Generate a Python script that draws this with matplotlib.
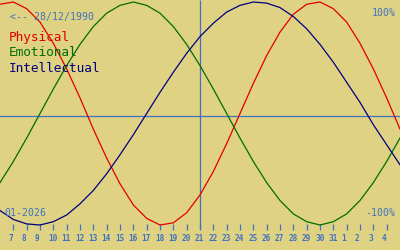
import matplotlib
matplotlib.use("Agg")
import matplotlib.pyplot as plt

# Day index 0 = 6 Jan 2026 ... 30 = 5 Feb 2026
days = list(range(31))
physical = [0.98, 1.00, 0.94, 0.82, 0.63, 0.40, 0.14, -0.14, -0.40, -0.63,
            -0.82, -0.94, -1.00, -0.98, -0.89, -0.73, -0.52, -0.27, 0.00, 0.27,
            0.52, 0.73, 0.89, 0.98, 1.00, 0.94, 0.82, 0.63, 0.40, 0.14, -0.14]
emotional = [-0.62, -0.43, -0.22, 0.00, 0.22, 0.43, 0.62, 0.78, 0.90, 0.97,
             1.00, 0.97, 0.90, 0.78, 0.62, 0.43, 0.22, 0.00, -0.22, -0.43,
             -0.62, -0.78, -0.90, -0.97, -1.00, -0.97, -0.90, -0.78, -0.62, -0.43, -0.22]
intellectual = [-0.87, -0.95, -0.99, -1.00, -0.97, -0.91, -0.81, -0.69, -0.54, -0.37,
                -0.19, 0.00, 0.19, 0.37, 0.54, 0.69, 0.81, 0.91, 0.97, 1.00,
                0.99, 0.95, 0.87, 0.76, 0.62, 0.46, 0.28, 0.10, -0.10, -0.28, -0.46]
tick_days = list(range(1, 30))
tick_labels = [str(d) for d in range(7, 32)] + ["1", "2", "3", "4"]
today = 15
birth_text = "<-- 28/12/1990"
month_text = "01-2026"
series_names = ["Physical", "Emotional", "Intellectual"]

BG = "#E0D283"
BLUE = "#3F72C0"
colors = ["#E00000", "#006E00", "#000080"]

fig = plt.figure(figsize=(4, 2.5), dpi=100, facecolor=BG)
ax = fig.add_axes([0, 0, 1, 1])
ax.set_facecolor(BG)
ax.set_xlim(0, 30)
ax.set_ylim(-1.224, 1.018)
ax.axis("off")

# zero line and today line
ax.axhline(-0.018, color=BLUE, lw=0.9, zorder=1)
xt = ax.get_xaxis_transform()
ax.vlines(today, 0.084, 1.0, transform=xt, color=BLUE, lw=0.9, zorder=1)

for vals, c in zip([physical, emotional, intellectual], colors):
    ax.plot(days, vals, color=c, lw=0.9, zorder=3)

# day ticks and labels
ax.vlines(tick_days, 0.080, 0.104, transform=xt, color=BLUE, lw=0.9)
for d, lab in zip(tick_days, tick_labels):
    ax.text(d - 0.37, 0.047, lab, transform=xt, ha="left", va="center",
            fontsize=5.6, family="DejaVu Sans Mono", weight="bold", color=BLUE)

# texts
mono = "DejaVu Sans Mono"
fig.text(10 / 400, 1 - 17 / 250, birth_text, ha="left", va="center",
         fontsize=7.1, family=mono, color=BLUE)
for i, (name, c) in enumerate(zip(series_names, colors)):
    fig.text(9 / 400, 1 - (38 + 15 * i) / 250, name, ha="left", va="center",
             fontsize=9.2, family=mono, color=c)
fig.text(396 / 400, 1 - 12.5 / 250, "100%", ha="right", va="center",
         fontsize=7.1, family=mono, color=BLUE)
fig.text(395 / 400, 1 - 213 / 250, "-100%", ha="right", va="center",
         fontsize=7.1, family=mono, color=BLUE)
fig.text(4 / 400, 1 - 212.5 / 250, month_text, ha="left", va="center",
         fontsize=7.1, family=mono, color=BLUE)

fig.savefig("out.png", dpi=100, facecolor=BG)
